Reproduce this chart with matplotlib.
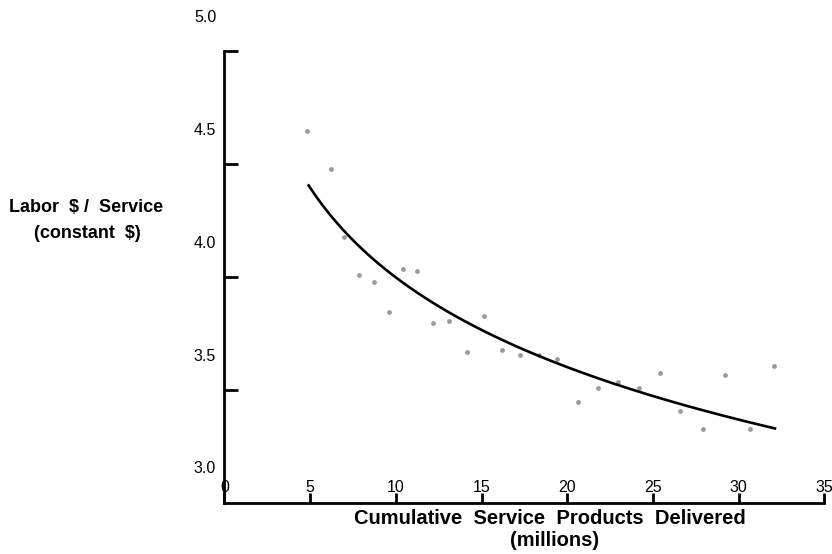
import numpy as np
import matplotlib.pyplot as plt

plt.rcParams['font.family'] = ['Liberation Sans', 'DejaVu Sans']

# cumulative volume (millions) and labor cost per service
volume = [4.80, 6.21, 6.97, 7.86, 8.72, 9.58, 10.40, 11.25, 12.18, 13.12,
          14.13, 15.14, 16.19, 17.24, 18.33, 19.42, 20.61, 21.79, 22.94,
          24.17, 25.41, 26.58, 27.90, 29.22, 30.66, 32.08]
labor_cost = [4.49, 4.32, 4.02, 3.85, 3.82, 3.69, 3.88, 3.87, 3.64, 3.65,
              3.51, 3.67, 3.52, 3.50, 3.50, 3.48, 3.29, 3.35, 3.38,
              3.35, 3.42, 3.25, 3.17, 3.41, 3.17, 3.45]

# log trend line: cost = a + b*ln(volume)
trend_a = 5.160
trend_b = -0.5728
trend_start, trend_end = 4.91, 32.12

y_labels = ['3.0', '3.5', '4.0', '4.5', '5.0']
y_label_vals = [3.0, 3.5, 4.0, 4.5, 5.0]
y_marks = [3.344, 3.844, 4.344, 4.844]
x_ticks = [0, 5, 10, 15, 20, 25, 30, 35]

fig = plt.figure(figsize=(8.32, 5.54), dpi=100)
ax = fig.add_axes([0.2698, 0.0926, 0.721, 0.8791])

ax.scatter(volume, labor_cost, s=12, color='#9a9a9a', linewidths=0, zorder=2)

tx = np.linspace(trend_start, trend_end, 200)
ax.plot(tx, trend_a + trend_b * np.log(tx), color='black', lw=1.9, zorder=3)

ax.set_xlim(0, 35)
ax.set_ylim(2.844, 5.0)

for s in ['top', 'right']:
    ax.spines[s].set_visible(False)
ax.spines['left'].set_bounds(2.844, 4.844)
ax.spines['bottom'].set_bounds(0, 35)
for s in ['left', 'bottom']:
    ax.spines[s].set_linewidth(2)

ax.set_yticks(y_label_vals)
ax.set_yticklabels(y_labels, fontsize=11.5)
ax.set_yticks(y_marks, minor=True)
ax.tick_params(axis='y', which='major', length=0, pad=6)
ax.tick_params(axis='y', which='minor', direction='in', length=10, width=2)

ax.set_xticks(x_ticks)
ax.set_xticklabels([str(t) for t in x_ticks], fontsize=11.5)
ax.tick_params(axis='x', which='major', direction='in', length=7, width=2, pad=-16.5)

fig.text(86 / 832, 1 - 208 / 554, 'Labor  $ /  Service', ha='center', va='center',
         fontsize=13, fontweight='bold')
fig.text(87 / 832, 1 - 233 / 554, '(constant  $)', ha='center', va='center',
         fontsize=13, fontweight='bold')

fig.text(550 / 832, 1 - 519 / 554, 'Cumulative  Service  Products  Delivered',
         ha='center', va='center', fontsize=14.5, fontweight='bold')
fig.text(555 / 832, 1 - 540 / 554, '(millions)', ha='center', va='center',
         fontsize=14.5, fontweight='bold')

fig.savefig('out.png', dpi=100)
